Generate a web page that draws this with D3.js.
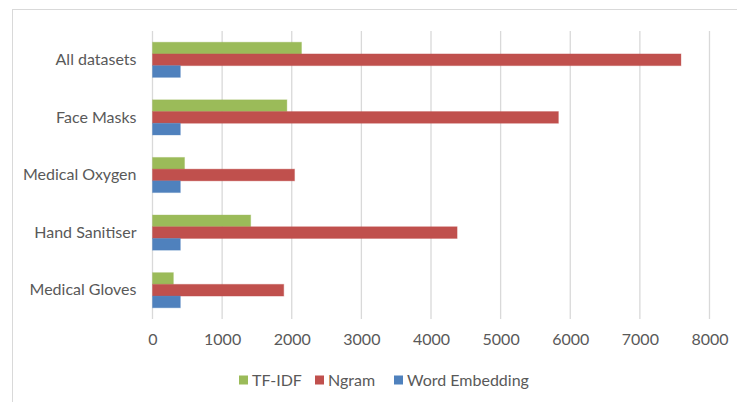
<!DOCTYPE html>
<html>
<head>
<meta charset="utf-8">
<script src="https://cdn.jsdelivr.net/npm/d3@7"></script>
<style>
  html, body { margin: 0; padding: 0; background: #fff; }
  svg { display: block; }
  text { font-family: Lato, "Liberation Sans", sans-serif; fill: #595959; }
</style>
</head>
<body>
<svg id="chart" width="737" height="402"></svg>
<script>
// Categories, listed top to bottom
const categories = ["All datasets", "Face Masks", "Medical Oxygen", "Hand Sanitiser", "Medical Gloves"];
// Series names in legend order (also the bar order within each group)
const seriesNames = ["TF-IDF", "Ngram", "Word Embedding"];
const seriesColors = ["#9bbb59", "#c0504d", "#4f81bd"];
// Values per series, aligned with categories
const tfidf = [2140, 1930, 460, 1410, 300];
const ngram = [7590, 5830, 2040, 4375, 1885];
const wordEmbedding = [400, 400, 400, 400, 400];
const xTicks = [0, 1000, 2000, 3000, 4000, 5000, 6000, 7000, 8000];

const seriesValues = [tfidf, ngram, wordEmbedding];
const svg = d3.select("#chart");
const fontSize = 16;

// Outer chart frame
svg.append("rect")
  .attr("x", 12.5).attr("y", 9.5)
  .attr("width", 740).attr("height", 400)
  .attr("fill", "none").attr("stroke", "#d9d9d9").attr("stroke-width", 1);

const plot = { left: 152.5, right: 709.5, top: 31, bottom: 319 };

const x = d3.scaleLinear().domain([0, 8000]).range([plot.left, plot.right]);
const y = d3.scaleBand().domain(categories).range([plot.top, plot.bottom]).paddingInner(0.39).paddingOuter(0.195);
const ySub = d3.scaleBand().domain(seriesNames).range([0, y.bandwidth()]);

// Vertical gridlines (the zero line doubles as the category axis)
svg.append("g").selectAll("line").data(xTicks).join("line")
  .attr("x1", d => x(d)).attr("x2", d => x(d))
  .attr("y1", plot.top).attr("y2", plot.bottom)
  .attr("stroke", "#d9d9d9").attr("stroke-width", 1.3);

// Bars
const rows = [];
categories.forEach((c, i) => {
  seriesNames.forEach((s, j) => rows.push({ cat: c, series: s, value: seriesValues[j][i], color: seriesColors[j] }));
});
svg.append("g").selectAll("rect").data(rows).join("rect")
  .attr("x", x(0))
  .attr("y", d => y(d.cat) + ySub(d.series))
  .attr("width", d => x(d.value) - x(0))
  .attr("height", ySub.bandwidth())
  .attr("fill", d => d.color)
  .attr("stroke", d => d.color).attr("stroke-opacity", 0.35).attr("stroke-width", 1);

// Value axis tick labels
const xAxis = d3.axisBottom(x).tickValues(xTicks).tickSize(0).tickPadding(0).tickFormat(d3.format("d"));
const gx = svg.append("g").attr("transform", `translate(0, 334)`).call(xAxis);
gx.select(".domain").remove();
gx.selectAll("text").attr("font-size", fontSize).attr("fill", "#595959").attr("dy", "0.71em")
  .style("font-family", "Lato, 'Liberation Sans', sans-serif");

// Category labels
const yAxis = d3.axisLeft(y).tickSize(0).tickPadding(16);
const gy = svg.append("g").attr("transform", `translate(${plot.left}, 0)`).call(yAxis);
gy.select(".domain").remove();
gy.selectAll("text").attr("font-size", fontSize).attr("fill", "#595959")
  .style("font-family", "Lato, 'Liberation Sans', sans-serif");

// Legend
const legendX = [239, 315, 394];
const legend = svg.append("g").selectAll("g").data(seriesNames).join("g")
  .attr("transform", (d, i) => `translate(${legendX[i]}, 380)`);
legend.append("rect").attr("x", 0).attr("y", -4.5).attr("width", 9).attr("height", 9)
  .attr("fill", (d, i) => seriesColors[i]);
legend.append("text").attr("x", 13).attr("dy", "0.35em").attr("font-size", fontSize).text(d => d);
</script>
</body>
</html>
